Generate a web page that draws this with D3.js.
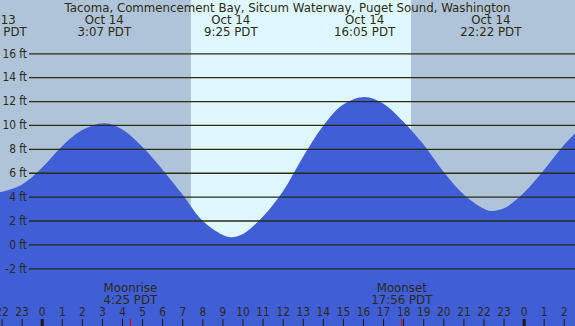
<!DOCTYPE html>
<html>
<head>
<meta charset="utf-8">
<script src="https://cdn.jsdelivr.net/npm/d3@7"></script>
<style>
  html, body { margin: 0; padding: 0; background: #fff; }
  svg { display: block; }
  .lbl { font-family: "DejaVu Sans", sans-serif; font-size: 11.8px; fill: #2b2b12; }
  .axis text { font-family: "DejaVu Sans Condensed", "DejaVu Sans", sans-serif; font-stretch: condensed; font-size: 11.8px; fill: #2b2b12; }
</style>
</head>
<body>
<div class="chart"></div>
<script>
// Tide heights (ft), hours from midnight Oct 14
const tideHours = [-3, -2.27, -2, -1, 0, 1, 2, 3.117, 4, 5, 6, 7, 8, 9, 9.417, 10, 11, 12, 13, 14, 15, 16.083, 17, 18, 19, 20, 21, 22, 22.367, 23, 24, 25, 26, 27];
const tideFeet  = [4.5, 4.35, 4.4, 5.0, 6.4, 8.2, 9.55, 10.15, 9.65, 8.2, 6.3, 4.2, 2.0, 0.8, 0.6, 0.85, 2.3, 4.4, 7.3, 9.9, 11.7, 12.35, 11.8, 10.3, 8.4, 6.1, 4.2, 3.0, 2.8, 3.0, 4.3, 6.2, 8.3, 10.0];

// High / low tide labels
const extremeHours = [-2.27, 3.117, 9.417, 16.083, 22.367];
const extremeDates = ["Oct 13", "Oct 14", "Oct 14", "Oct 14", "Oct 14"];
const extremeTimes = ["21:44 PDT", "3:07 PDT", "9:25 PDT", "16:05 PDT", "22:22 PDT"];

// Daylight
const sunriseHour = 7.43;
const sunsetHour = 18.39;

// Moon events
const moonNames = ["Moonrise", "Moonset"];
const moonHours = [4.417, 17.933];
const moonTimes = ["4:25 PDT", "17:56 PDT"];

// Axis ticks
const feetTicks = [-2, 0, 2, 4, 6, 8, 10, 12, 14, 16];
const hourTicks = d3.range(-2, 27);

const title = "Tacoma, Commencement Bay, Sitcum Waterway, Puget Sound, Washington";

const width = 575, height = 326;

const svg = d3.select(".chart")
    .append("svg")
    .attr("width", width)
    .attr("height", height)
    .style("overflow", "hidden");

// 0h at x=41.7, 20.08 px per hour
const x = d3.scaleLinear()
    .domain([-41.7 / 20.08, (width - 41.7) / 20.08])
    .range([0, width]);

const y = d3.scaleLinear()
    .domain([0, 16])
    .range([244.4, 53.3]);

// night background, then the daylight band
svg.append("rect")
    .attr("width", width).attr("height", height)
    .attr("fill", "#b0c4d9");

svg.append("rect")
    .attr("x", x(sunriseHour))
    .attr("width", x(sunsetHour) - x(sunriseHour))
    .attr("height", height)
    .attr("fill", "#def7ff");

// tide area
const tide = tideHours.map((h, i) => ({ h: h, ft: tideFeet[i] }));

const area = d3.area()
    .x(d => x(d.h))
    .y0(height)
    .y1(d => y(d.ft))
    .curve(d3.curveCatmullRom.alpha(0.5));

svg.append("path")
    .datum(tide)
    .attr("d", area)
    .attr("fill", "#405ed6");

// gridlines + feet labels
const gx = 29;
const yAxis = d3.axisLeft(y)
    .tickValues(feetTicks)
    .tickFormat(d => d + " ft")
    .tickSize(-(width - gx))
    .tickPadding(2);

svg.append("g")
    .attr("class", "axis")
    .attr("transform", `translate(${gx}, 0)`)
    .call(yAxis)
    .call(g => g.select(".domain").remove())
    .call(g => g.selectAll(".tick line").attr("stroke", "#2b2b12").attr("stroke-width", 1.3));

// hour axis along the bottom
const xAxis = d3.axisTop(x)
    .tickValues(hourTicks)
    .tickFormat(d => ((d % 24) + 24) % 24)
    .tickSize(7)
    .tickPadding(3);

svg.append("g")
    .attr("class", "axis")
    .attr("transform", `translate(0, ${height})`)
    .call(xAxis)
    .call(g => g.select(".domain").remove())
    .call(g => g.selectAll(".tick line")
        .attr("stroke", "#1a1a10")
        .attr("stroke-width", d => d % 24 === 0 ? 3 : 1));

// moon event ticks and labels
svg.selectAll(".moontick")
    .data(moonHours)
    .enter()
    .append("line")
        .attr("x1", d => x(d)).attr("x2", d => x(d))
        .attr("y1", height - 7).attr("y2", height)
        .attr("stroke", "#e00000")
        .attr("stroke-width", 1);

moonNames.forEach((name, i) => {
    const t = svg.append("text")
        .attr("class", "lbl")
        .attr("text-anchor", "middle")
        .attr("x", x(moonHours[i]));
    t.append("tspan").attr("x", x(moonHours[i])).attr("y", 292).text(name);
    t.append("tspan").attr("x", x(moonHours[i])).attr("y", 303.5).text(moonTimes[i]);
});

// title
svg.append("text")
    .attr("class", "lbl")
    .attr("x", width / 2)
    .attr("y", 11.5)
    .attr("text-anchor", "middle")
    .text(title);

// high / low labels
extremeHours.forEach((h, i) => {
    const t = svg.append("text")
        .attr("class", "lbl")
        .attr("text-anchor", "middle");
    t.append("tspan").attr("x", x(h)).attr("y", 23.5).text(extremeDates[i]);
    t.append("tspan").attr("x", x(h)).attr("y", 35.5).text(extremeTimes[i]);
});
</script>
</body>
</html>
